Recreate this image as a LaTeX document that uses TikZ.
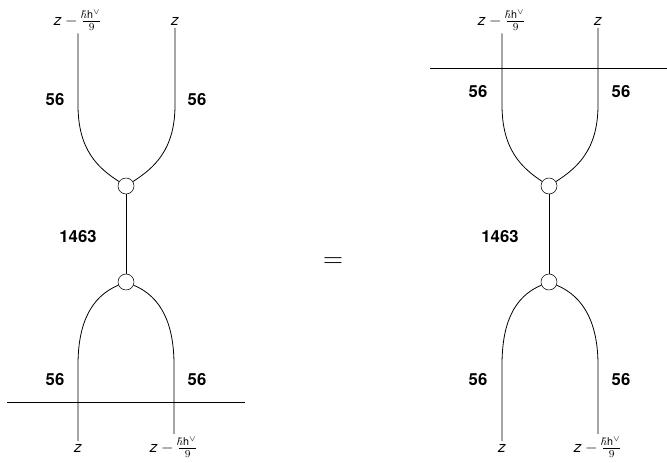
\documentclass[tikz,border=0pt]{standalone}
\usepackage{amsmath,amssymb}
\usepackage{fontspec}
\setmainfont{TeX Gyre Heros}
\usepackage{tikz}
\usetikzlibrary{positioning}

\newcommand{\zv}{\textit{z}}
\newcommand{\zshift}{$\text{\itshape z} - \frac{\hbar\text{h}^{\vee}}{9}$}

\begin{document}
\begin{tikzpicture}[
  x=0.75pt, y=-0.75pt,
  every node/.style={font=\fontsize{11.5}{14}\selectfont},
  vertex/.style={draw, circle, fill=white, minimum size=12pt, inner sep=0pt},
  rep/.style={font=\fontsize{12.5}{15}\selectfont\bfseries},
  ends/.style={anchor=base, inner sep=2pt},
  line/.style={draw, line width=0.6pt},
]
\useasboundingbox (0,0) rectangle (667,462);

% left side
\node[vertex] (vtopL) at (126,186) {};
\node[vertex] (vbotL) at (126,282) {};
\node[ends] (inL1) at (78,25) {\zshift};
\node[ends] (inL2) at (175,25) {\zv};
\node[ends] (outL1) at (78,452) {\zv};
\node[ends] (outL2) at (174,452) {\zshift};
\node[rep] (repL1) at (55,100) {56};
\node[rep] (repL2) at (197,100) {56};
\node[rep] (repL3) at (78,237) {1463};
\node[rep] (repL4) at (55,380) {56};
\node[rep] (repL5) at (197,380) {56};
\coordinate (cutLa) at (7,402);
\coordinate (cutLb) at (245,402);

\draw[line] (inL1.south) -- (78,105) .. controls (78,150) and (98,168) .. (vtopL);
\draw[line] (inL2.south) -- (175,105) .. controls (175,150) and (154,168) .. (vtopL);
\draw[line] (vtopL) -- (vbotL);
\draw[line] (vbotL) .. controls (90,297) and (78,325) .. (78,365) -- (outL1.north);
\draw[line] (vbotL) .. controls (162,297) and (174,325) .. (174,365) -- (outL2.north);
\draw[line] (cutLa) -- (cutLb);

\node[font=\huge] (eq) at (333,263) {$=$};

% right side
\node[vertex] (vtopR) at (549,186) {};
\node[vertex] (vbotR) at (549,282) {};
\node[ends] (inR1) at (502,25) {\zshift};
\node[ends] (inR2) at (598,25) {\zv};
\node[ends] (outR1) at (502,452) {\zv};
\node[ends] (outR2) at (598,452) {\zshift};
\node[rep] (repR1) at (478,92) {56};
\node[rep] (repR2) at (621,92) {56};
\node[rep] (repR3) at (500,237) {1463};
\node[rep] (repR4) at (478,380) {56};
\node[rep] (repR5) at (621,380) {56};
\coordinate (cutRa) at (430,68);
\coordinate (cutRb) at (667,68);

\draw[line] (inR1.south) -- (502,105) .. controls (502,150) and (522,168) .. (vtopR);
\draw[line] (inR2.south) -- (598,105) .. controls (598,150) and (577,168) .. (vtopR);
\draw[line] (vtopR) -- (vbotR);
\draw[line] (vbotR) .. controls (513,297) and (502,325) .. (502,365) -- (outR1.north);
\draw[line] (vbotR) .. controls (585,297) and (598,325) .. (598,365) -- (outR2.north);
\draw[line] (cutRa) -- (cutRb);

\end{tikzpicture}
\end{document}
